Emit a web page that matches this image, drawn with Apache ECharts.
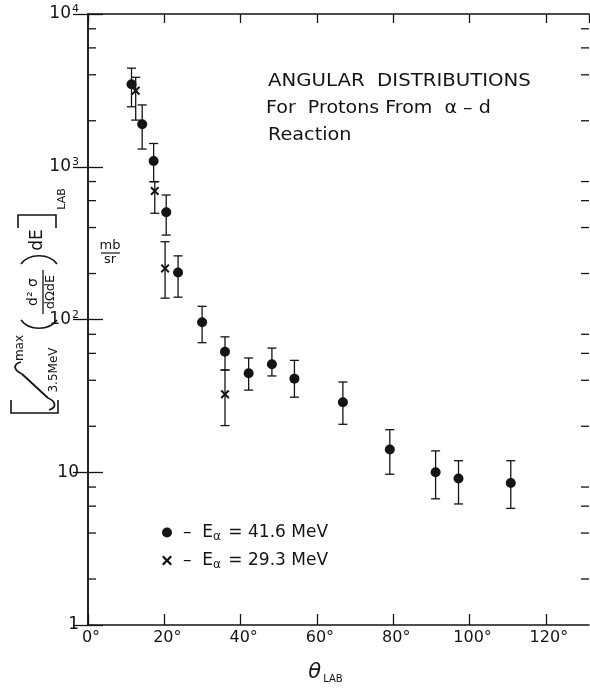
<!DOCTYPE html>
<html><head><meta charset="utf-8">
<script src="https://cdn.jsdelivr.net/npm/echarts@6/dist/echarts.min.js"></script>
<style>html,body{margin:0;padding:0;background:#fff}#c{width:590px;height:690px}</style>
</head><body><div id="c"></div>
<script>
// ---- data ----
// E_alpha = 41.6 MeV : angle (deg), value, error-bar high, error-bar low
const angles416 = [11.4, 14.2, 17.2, 20.5, 23.6, 29.9, 35.9, 42.1, 48.2, 54.1, 66.8, 79.1, 91.1, 97.1, 110.8];
const values416 = [3470, 1900, 1090, 503, 203, 96, 61.5, 44.5, 51, 41, 28.7, 14.1, 10.0, 9.1, 8.5];
const high416   = [4420, 2540, 1420, 653, 261, 122, 77, 56, 65, 54, 39, 19, 13.8, 11.9, 11.9];
const low416    = [2470, 1306, 798, 357, 140, 70.5, 46.7, 34.5, 42.7, 31, 20.6, 9.7, 6.7, 6.2, 5.8];
// E_alpha = 29.3 MeV
const angles293 = [12.5, 17.5, 20.2, 35.9];
const values293 = [3150, 694, 216, 32.4];
const high293   = [3850, 798, 323, 46.7];
const low293    = [2020, 496, 138, 20.2];
// axes
const xTicks = [0, 20, 40, 60, 80, 100, 120];
const xMin = 0, xMax = 131.3;
const yMin = 1, yMax = 10000;
const minorY = [2,4,6,8, 20,40,60,80, 200,400,600,800, 2000,4000,6000,8000];
const titleLines = ['ANGULAR  DISTRIBUTIONS', 'For  Protons From  α – d', 'Reaction'];

const INK = '#141414';
const FONT = 'DejaVu Sans';
const CROSS = 'path://M0,1.6L1.6,0L5,3.4L8.4,0L10,1.6L6.6,5L10,8.4L8.4,10L5,6.6L1.6,10L0,8.4L3.4,5Z';

const chart = echarts.init(document.getElementById('c'), null, {renderer: 'canvas'});

function errData(a, hi, lo){ return a.map((x,i)=>[x, lo[i], hi[i]]); }
function errRender(params, api){
  const x = api.value(0);
  const pLo = api.coord([x, api.value(1)]);
  const pHi = api.coord([x, api.value(2)]);
  const w = 4.5;
  const st = {stroke: INK, lineWidth: 1.3};
  return {type:'group', children:[
    {type:'line', shape:{x1:pLo[0], y1:pLo[1], x2:pHi[0], y2:pHi[1]}, style:st},
    {type:'line', shape:{x1:pLo[0]-w, y1:pLo[1], x2:pLo[0]+w, y2:pLo[1]}, style:st},
    {type:'line', shape:{x1:pHi[0]-w, y1:pHi[1], x2:pHi[0]+w, y2:pHi[1]}, style:st}
  ]};
}
const T = (x, y, text, size, extra) => Object.assign({type: 'text', x: x, y: y,
  style: {text: text, font: size + 'px "DejaVu Sans"', fill: INK, align: 'center', verticalAlign: 'middle'}}, extra || {});
const SW = {stroke: INK, lineWidth: 1.6, fill: null};

const option = {
  backgroundColor: '#fff',
  animation: false,
  textStyle: {fontFamily: FONT, color: INK},
  grid: {left: 88, top: 14, width: 501, height: 611, containLabel: false},
  xAxis: [{
    type: 'value', min: xMin, max: xMax, interval: 20,
    axisLine: {show: true, lineStyle: {color: INK, width: 1.5}},
    axisTick: {show: true, inside: true, length: 11, lineStyle: {color: INK, width: 1.3}},
    splitLine: {show: false},
    axisLabel: {margin: 5, fontSize: 16, color: INK, fontFamily: FONT, showMaxLabel: false,
      padding: [0, 0, 0, 6],
      formatter: v => xTicks.includes(v) ? v + '°' : ''},
    name: '{t|θ}{s|LAB}', nameLocation: 'middle', nameGap: 36,
    nameTextStyle: {padding: [0, 26, 0, 0], rich: {
      t: {fontSize: 21, fontStyle: 'italic', fontFamily: FONT, color: INK, lineHeight: 24},
      s: {fontSize: 10, fontFamily: FONT, color: INK, padding: [12, 0, 0, 2]}
    }}
  }, {
    type: 'value', position: 'top', min: xMin, max: xMax, interval: 20,
    axisLine: {show: true, lineStyle: {color: INK, width: 1.5}},
    axisTick: {show: true, inside: true, length: 9, lineStyle: {color: INK, width: 1.3}},
    axisLabel: {show: false}, splitLine: {show: false}
  }],
  yAxis: [{
    type: 'log', logBase: 10, min: yMin, max: yMax,
    axisLine: {show: true, lineStyle: {color: INK, width: 1.5}},
    axisTick: {show: true, inside: true, length: 15, lineStyle: {color: INK, width: 1.3}},
    splitLine: {show: false},
    axisLabel: {margin: 9, color: INK, fontFamily: FONT, fontSize: 17,
      formatter: v => {
        const e = Math.round(Math.log10(v));
        if (e === 0) return '{b|1}';
        if (e === 1) return '{b|10}';
        return '{b|10}{s|' + e + '}';
      },
      rich: {
        b: {fontSize: 17, fontFamily: FONT, color: INK, lineHeight: 22},
        s: {fontSize: 11, fontFamily: FONT, color: INK, padding: [0, 0, 9, 1]}
      }
    }
  }, {
    type: 'log', logBase: 10, min: yMin, max: yMax, position: 'right',
    axisLine: {show: true, lineStyle: {color: INK, width: 1.5}},
    axisTick: {show: true, inside: true, length: 15, lineStyle: {color: INK, width: 1.3}},
    axisLabel: {show: false}, splitLine: {show: false}
  }],
  legend: {
    orient: 'vertical', left: 157, top: 519, itemGap: 9,
    itemWidth: 10, itemHeight: 10, selectedMode: false,
    data: [{name: 'E41.6', icon: 'circle'}, {name: 'E29.3', icon: CROSS}],
    formatter: n => n === 'E41.6' ? '–  E{a|α} = 41.6 MeV' : '–  E{a|α} = 29.3 MeV',
    textStyle: {fontFamily: FONT, fontSize: 17, color: INK, padding: [0, 0, 0, 6],
      rich: {a: {fontSize: 12, fontFamily: FONT, color: INK, padding: [9, 2, 0, 0]}}}
  },
  series: [
    {type: 'custom', name: 'minor', silent: true, renderItem: (p, api) => {
      const v = api.value(1);
      const a = api.coord([xMin, v]);
      const b = api.coord([xMax, v]);
      const st = {stroke: INK, lineWidth: 1.3};
      return {type: 'group', children: [
        {type: 'line', shape: {x1: a[0], y1: a[1], x2: a[0] + 8, y2: a[1]}, style: st},
        {type: 'line', shape: {x1: b[0] - 8, y1: b[1], x2: b[0], y2: b[1]}, style: st}
      ]};
    }, data: minorY.map(v => [xMin, v]), encode: {x: 0, y: 1}, z: 1},
    {type: 'custom', name: 'err416', silent: true, renderItem: errRender,
      data: errData(angles416, high416, low416), encode: {x: 0, y: [1, 2]}, z: 2},
    {type: 'custom', name: 'err293', silent: true, renderItem: errRender,
      data: errData(angles293, high293, low293), encode: {x: 0, y: [1, 2]}, z: 2},
    {type: 'scatter', name: 'E41.6', symbol: 'circle', symbolSize: 10,
      itemStyle: {color: INK, opacity: 1}, data: angles416.map((x, i) => [x, values416[i]]), z: 3},
    {type: 'scatter', name: 'E29.3', symbol: CROSS, symbolSize: 9,
      itemStyle: {color: INK, opacity: 1}, data: angles293.map((x, i) => [x, values293[i]]), z: 3}
  ],
  graphic: [
    {type: 'text', x: 268, y: 73, scaleX: 1.16, style: {text: titleLines[0], font: '17px "DejaVu Sans"', fill: INK}},
    {type: 'text', x: 266, y: 100, scaleX: 1.12, style: {text: titleLines[1], font: '17px "DejaVu Sans"', fill: INK}},
    {type: 'text', x: 268, y: 127, scaleX: 1.13, style: {text: titleLines[2], font: '17px "DejaVu Sans"', fill: INK}},
    // mb / sr
    T(110, 246, 'mb', 13),
    {type: 'line', shape: {x1: 101, y1: 253, x2: 120, y2: 253}, style: {stroke: INK, lineWidth: 1.2}},
    T(110, 260, 'sr', 13),
    // rotated y-axis title
    {type: 'group', x: 38, y: 300, rotation: Math.PI / 2, children: [
      {type: 'polyline', shape: {points: [[-100, -27], [-113, -27], [-113, 20], [-100, 20]]}, style: SW},
      {type: 'bezierCurve', shape: {x1: -62, y1: -17, cpx1: -64, cpy1: -25, cpx2: -70, cpy2: -25, x2: -74, y2: -16}, style: {stroke: INK, lineWidth: 1.8, fill: null}},
      {type: 'line', shape: {x1: -74, y1: -16, x2: -98, y2: 10}, style: {stroke: INK, lineWidth: 1.8}},
      {type: 'bezierCurve', shape: {x1: -98, y1: 10, cpx1: -102, cpy1: 19, cpx2: -108, cpy2: 18, x2: -110, y2: 11}, style: {stroke: INK, lineWidth: 1.8, fill: null}},
      T(-48, -18, 'max', 12),
      T(-70, 16, '3.5MeV', 12),
      {type: 'bezierCurve', shape: {x1: -20, y1: -17, cpx1: -31, cpy1: -9, cpx2: -31, cpy2: 11, x2: -20, y2: 19}, style: SW},
      T(8, -5, 'd² σ', 14),
      {type: 'line', shape: {x1: -14, y1: 5, x2: 30, y2: 5}, style: {stroke: INK, lineWidth: 1.3}},
      T(8, 13, 'dΩdE', 13),
      {type: 'bezierCurve', shape: {x1: 36, y1: -17, cpx1: 47, cpy1: -9, cpx2: 47, cpy2: 11, x2: 36, y2: 19}, style: SW},
      T(60, 0, 'dE', 17),
      {type: 'polyline', shape: {points: [[72, -20], [85, -20], [85, 18], [72, 18]]}, style: SW},
      T(101, 24, 'LAB', 11)
    ]}
  ]
};
chart.setOption(option);
</script></body></html>
